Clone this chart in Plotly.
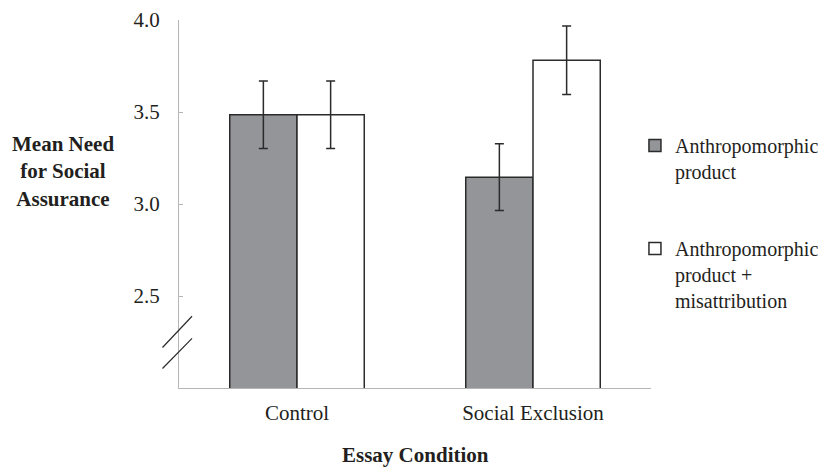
import plotly.graph_objects as go

categories = ["Control", "Social Exclusion"]
series_names = ["Anthropomorphic<br>product", "Anthropomorphic<br>product +<br>misattribution"]
anthro_vals = [3.485, 3.146]
anthro_err = [0.184, 0.182]
misattr_vals = [3.485, 3.781]
misattr_err = [0.184, 0.186]
y_ticks = [2.5, 3.0, 3.5, 4.0]
y_ticktext = ["2.5", "3.0", "3.5", "4.0"]

FONT = "Liberation Serif, Times New Roman, serif"
TXT = "#231f20"
EDGE = "#2b2b2b"
FS = 21

fig = go.Figure()
fig.add_trace(go.Bar(
    x=categories, y=anthro_vals, name=series_names[0],
    marker=dict(color="#939598", line=dict(color=EDGE, width=1.5)),
    error_y=dict(type="data", array=anthro_err, color=EDGE, thickness=1.5, width=4.5),
    legendgroup="a",
))
fig.add_trace(go.Bar(
    x=categories, y=misattr_vals, name=series_names[1],
    marker=dict(color="#ffffff", line=dict(color=EDGE, width=1.5)),
    error_y=dict(type="data", array=misattr_err, color=EDGE, thickness=1.5, width=4.5),
    legendgroup="b",
))

# page body has an 8px margin, so the figure is drawn 8px smaller and offset
fig.update_layout(
    width=818, height=459,
    margin=dict(l=171, r=175, t=12, b=79, autoexpand=False),
    paper_bgcolor="white", plot_bgcolor="white",
    font=dict(family=FONT, size=FS, color=TXT),
    barmode="group", bargap=0.43, bargroupgap=0,
    showlegend=True,
    legend=dict(x=0.966, y=0.712, xanchor="left", yanchor="top",
                valign="top", tracegroupgap=48, itemwidth=30,
                font=dict(family=FONT, size=20, color=TXT),
                bgcolor="rgba(0,0,0,0)"),
    xaxis=dict(showline=True, linecolor="#b5b5b5", linewidth=1.2,
               ticks="", showgrid=False, zeroline=False, automargin=False,
               tickfont=dict(family=FONT, size=FS, color=TXT),
               ticklabelstandoff=6),
    yaxis=dict(range=[2.0, 4.0], tickvals=y_ticks, ticktext=y_ticktext,
               showline=True, linecolor="#b5b5b5", linewidth=1.2,
               ticks="inside", ticklen=4, tickcolor="#b5b5b5",
               showgrid=False, zeroline=False, automargin=False,
               tickfont=dict(family=FONT, size=FS, color=TXT),
               ticklabelstandoff=14),
    annotations=[
        dict(text="<b>Mean Need<br>for Social<br>Assurance</b>", xref="paper", yref="paper",
             x=-0.2466, y=0.587, xanchor="center", yanchor="middle", align="center",
             showarrow=False, font=dict(family=FONT, size=FS, color=TXT)),
        dict(text="<b>Essay Condition</b>", xref="paper", yref="paper",
             x=0.5, y=-0.183, xanchor="center", yanchor="middle",
             showarrow=False, font=dict(family=FONT, size=FS, color=TXT)),
    ],
    shapes=[
        dict(type="line", xref="paper", yref="y", x0=-0.035, y0=2.22, x1=0.0276, y1=2.39,
             line=dict(color=EDGE, width=1.2)),
        dict(type="line", xref="paper", yref="y", x0=-0.035, y0=2.106, x1=0.0276, y1=2.27,
             line=dict(color=EDGE, width=1.2)),
    ],
)

fig.write_html("out.html")
